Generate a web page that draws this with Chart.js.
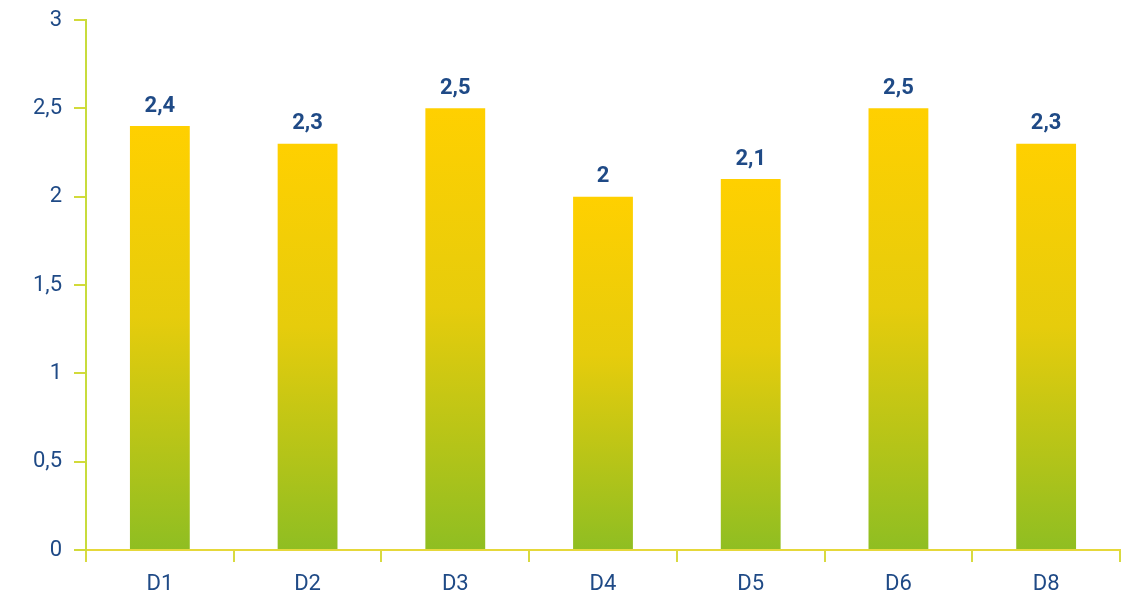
<!DOCTYPE html>
<html>
<head>
<meta charset="utf-8">
<script src="https://cdn.jsdelivr.net/npm/chart.js@4/dist/chart.umd.min.js"></script>
<style>
    html, body { margin: 0; padding: 0; background: #ffffff; }
    #wrap { width: 1123px; height: 599px; }
</style>
</head>
<body>
<div id="wrap"><canvas id="chart" width="1123" height="599"></canvas></div>
<script>
    const categories = ['D1', 'D2', 'D3', 'D4', 'D5', 'D6', 'D8'];
    const values = [2.4, 2.3, 2.5, 2.0, 2.1, 2.5, 2.3];
    const yTicks = [0, 0.5, 1, 1.5, 2, 2.5, 3];

    const textColor = '#1f4a86';
    const fmt = (v) => String(v).replace('.', ',');

    function barGradient(context) {
        const chart = context.chart;
        const { ctx, chartArea, scales } = chart;
        if (!chartArea) return '#ffd000';
        const v = values[context.dataIndex];
        const top = scales.y.getPixelForValue(v);
        const bottom = scales.y.getPixelForValue(0);
        const g = ctx.createLinearGradient(0, top, 0, bottom);
        g.addColorStop(0, '#ffd000');
        g.addColorStop(0.45, '#e6cc0c');
        g.addColorStop(1, '#8fbe22');
        return g;
    }

    const valueLabels = {
        id: 'valueLabels',
        afterDatasetsDraw(chart) {
            const { ctx } = chart;
            const meta = chart.getDatasetMeta(0);
            ctx.save();
            ctx.fillStyle = textColor;
            ctx.font = "bold 22px Roboto, sans-serif";
            ctx.textAlign = 'center';
            ctx.textBaseline = 'bottom';
            meta.data.forEach((bar, i) => {
                ctx.fillText(fmt(values[i]), bar.x, bar.y - 9);
            });
            ctx.restore();
        },
    };

    new Chart(document.getElementById('chart').getContext('2d'), {
        type: 'bar',
        data: {
            labels: categories,
            datasets: [{
                data: values,
                backgroundColor: barGradient,
                borderWidth: 0,
                barPercentage: 0.81,
                categoryPercentage: 0.5,
            }],
        },
        options: {
            responsive: false,
            animation: false,
            layout: { padding: { top: 20, right: 3, left: 0, bottom: 0 } },
            plugins: {
                legend: { display: false },
                tooltip: { enabled: false },
            },
            scales: {
                x: {
                    grid: {
                        offset: true,
                        drawOnChartArea: false,
                        color: '#d8da40',
                        tickLength: 12,
                        lineWidth: 2,
                    },
                    border: { color: '#e6d83a', width: 2 },
                    ticks: {
                        color: textColor,
                        font: { family: 'Roboto, sans-serif', size: 22 },
                        padding: 9,
                    },
                    afterFit(scale) { scale.height = 49; },
                },
                y: {
                    min: 0,
                    max: 3,
                    afterBuildTicks(scale) {
                        scale.ticks = yTicks.map((v) => ({ value: v }));
                    },
                    grid: {
                        drawOnChartArea: false,
                        color: '#d2da3a',
                        tickLength: 12,
                        lineWidth: 2,
                    },
                    border: { color: '#c8dc3c', width: 2 },
                    ticks: {
                        color: textColor,
                        font: { family: 'Roboto, sans-serif', size: 22 },
                        padding: 12,
                        callback: (v) => fmt(v),
                    },
                    afterFit(scale) {
                        scale.width = 86;
                        scale.paddingTop = 0;
                        scale.paddingBottom = 0;
                    },
                },
            },
        },
        plugins: [valueLabels],
    });
</script>
</body>
</html>
